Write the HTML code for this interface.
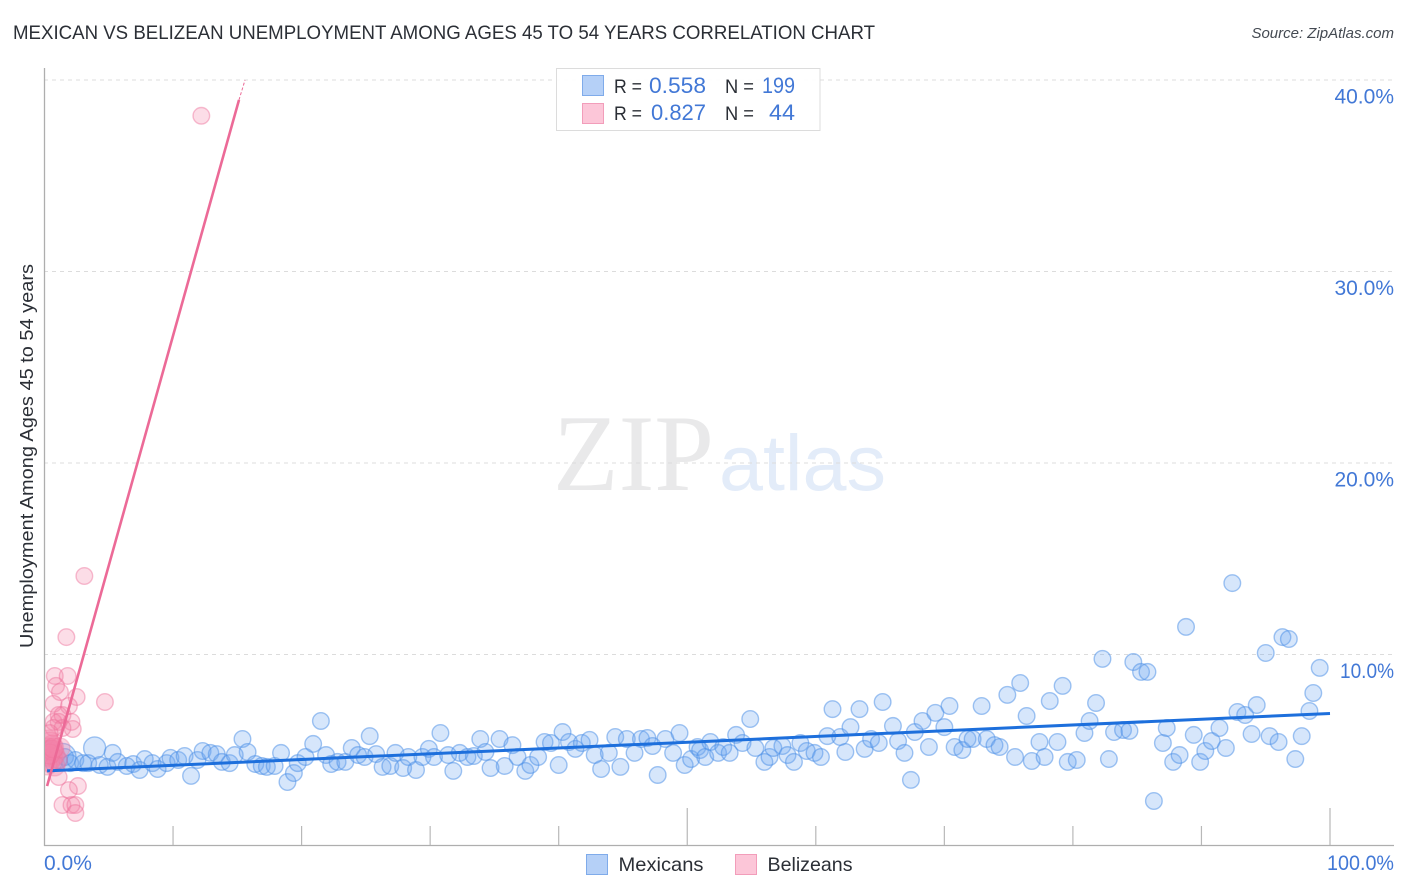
<!DOCTYPE html>
<html>
<head>
<meta charset="utf-8">
<title>Mexican vs Belizean Unemployment Correlation Chart</title>
<style>
html,body{margin:0;padding:0;background:#fff;width:1406px;height:892px;overflow:hidden}
svg{display:block;font-family:"Liberation Sans",sans-serif}
</style>
</head>
<body>
<svg id="chart" width="1406" height="892" viewBox="0 0 1406 892" xmlns="http://www.w3.org/2000/svg">
  <defs>
    <clipPath id="plot-clip"><rect x="45" y="60" width="1360" height="786"/></clipPath>
  </defs>
  <rect x="0" y="0" width="1406" height="892" fill="#ffffff"/>
  <text x="13" y="39" font-size="19" fill="#2b2f36" textLength="862" lengthAdjust="spacingAndGlyphs">MEXICAN VS BELIZEAN UNEMPLOYMENT AMONG AGES 45 TO 54 YEARS CORRELATION CHART</text>
  <text x="1394" y="38" font-size="15" font-style="italic" fill="#444a52" text-anchor="end">Source: ZipAtlas.com</text>
  <g>
    <text x="553" y="490" font-family="'Liberation Serif',serif" font-size="109" fill="#e9e9ea" textLength="161" lengthAdjust="spacingAndGlyphs">ZIP</text>
    <text x="719" y="490" font-size="79" fill="#e3ecf9" textLength="167" lengthAdjust="spacingAndGlyphs">atlas</text>
  </g>
  <g id="grid"></g>
  <g id="axes"></g>
  <g id="ticks"></g>
  <text transform="translate(33,648) rotate(-90)" font-size="18.5" fill="#2b2f36" textLength="384" lengthAdjust="spacingAndGlyphs">Unemployment Among Ages 45 to 54 years</text>
  <g id="mexican-points" clip-path="url(#plot-clip)"></g>
  <g id="belizean-points" clip-path="url(#plot-clip)"></g>
  <g id="trends"></g>

  <g>
    <rect x="556.5" y="68.5" width="263.5" height="62" fill="#ffffff" fill-opacity="0.9" stroke="#dcdcdc" stroke-width="1"/>
    <rect x="582.5" y="75.5" width="21" height="20" fill="#b5d0f7" stroke="#7fabea"/>
    <rect x="582.5" y="103.5" width="21" height="20" fill="#fcc6d8" stroke="#f29dba"/>
    <g font-size="19.5">
      <text x="614" y="93" fill="#2b2f36" textLength="28" lengthAdjust="spacingAndGlyphs">R =</text>
      <text x="649" y="93" fill="#4278d6" font-size="22" textLength="57" lengthAdjust="spacingAndGlyphs">0.558</text>
      <text x="725" y="93" fill="#2b2f36" textLength="29" lengthAdjust="spacingAndGlyphs">N =</text>
      <text x="762" y="93" fill="#4278d6" font-size="22" textLength="33" lengthAdjust="spacingAndGlyphs">199</text>
      <text x="614" y="120" fill="#2b2f36" textLength="28" lengthAdjust="spacingAndGlyphs">R =</text>
      <text x="651" y="120" fill="#4278d6" font-size="22" textLength="55" lengthAdjust="spacingAndGlyphs">0.827</text>
      <text x="725" y="120" fill="#2b2f36" textLength="29" lengthAdjust="spacingAndGlyphs">N =</text>
      <text x="769" y="120" fill="#4278d6" font-size="22" textLength="26" lengthAdjust="spacingAndGlyphs">44</text>
    </g>
  </g>

  <g>
    <g>
      <rect x="586.5" y="854.5" width="21" height="20" fill="#b5d0f7" stroke="#7fabea"/>
      <text x="618.5" y="871" font-size="19.5" fill="#2b2f36" textLength="85" lengthAdjust="spacingAndGlyphs">Mexicans</text>
    </g>
    <g>
      <rect x="735.5" y="854.5" width="21" height="20" fill="#fcc6d8" stroke="#f29dba"/>
      <text x="767.5" y="871" font-size="19.5" fill="#2b2f36" textLength="85" lengthAdjust="spacingAndGlyphs">Belizeans</text>
    </g>
  </g>
</svg>
<script>
const xTickValues = [0,10,20,30,40,50,60,70,80,90,100];
const xMajorTicks = [50,100];
const yGridValues = [10,20,30,40];
const yTickLabels = ["10.0%","20.0%","30.0%","40.0%"];
const xEndLabels = ["0.0%","100.0%"];

const mexicanX = [3.9,1.4,0.4,0.7,1.1,1.6,2.0,2.4,3.0,3.4,4.3,4.9,5.3,5.7,6.4,6.9,7.4,7.8,8.4,8.8,9.5,9.8,10.4,10.9,11.4,11.9,12.3,12.9,13.4,13.8,14.4,14.8,15.4,15.8,16.4,16.9,17.3,17.9,18.4,18.9,19.4,19.7,20.3,20.9,21.5,21.9,22.3,22.8,23.4,23.9,24.4,24.9,25.3,25.8,26.3,26.9,27.3,27.9,28.3,28.9,29.4,29.9,30.3,30.8,31.4,31.8,32.3,32.9,33.4,33.9,34.3,34.7,35.4,35.8,36.4,36.8,37.4,37.8,38.4,38.9,39.4,40.0,40.3,40.8,41.3,41.8,42.4,42.8,43.3,43.9,44.4,44.8,45.3,45.9,46.4,46.9,47.3,47.7,48.3,48.9,49.4,49.8,50.3,50.8,51.0,51.4,51.8,52.4,52.8,53.3,53.8,54.3,54.9,55.3,56.0,56.4,56.7,57.4,57.8,58.3,58.8,59.3,59.9,60.4,60.9,61.3,61.9,62.3,62.7,63.4,63.8,64.3,64.9,65.2,66.0,66.4,66.9,67.4,67.7,68.3,68.8,69.3,70.0,70.4,70.8,71.4,71.8,72.2,72.9,73.3,73.9,74.3,74.9,75.5,75.9,76.4,76.8,77.4,77.8,78.2,78.8,79.2,79.6,80.3,80.9,81.3,81.8,82.3,82.8,83.2,83.9,84.4,84.7,85.3,85.8,86.3,87.0,87.3,87.8,88.3,88.8,89.4,89.9,90.3,90.8,91.4,91.9,92.4,92.8,93.4,93.9,94.3,95.0,95.3,96.0,96.3,96.8,97.3,97.8,98.4,98.7,99.2];
const mexicanY = [5.12,4.65,5.01,4.33,4.49,4.65,4.33,4.49,4.33,4.33,4.23,4.13,4.86,4.39,4.18,4.28,3.97,4.54,4.33,4.02,4.33,4.60,4.49,4.70,3.66,4.49,4.96,4.86,4.80,4.39,4.33,4.75,5.59,4.91,4.28,4.18,4.13,4.18,4.86,3.34,3.81,4.33,4.65,5.33,6.53,4.75,4.28,4.39,4.39,5.12,4.75,4.65,5.74,4.80,4.13,4.18,4.86,4.07,4.65,3.97,4.65,5.07,4.65,5.90,4.75,3.92,4.86,4.65,4.70,5.59,4.91,4.07,5.59,4.18,5.27,4.65,3.92,4.23,4.65,5.43,5.38,4.23,5.95,5.43,5.07,5.38,5.54,4.75,4.02,4.86,5.69,4.13,5.59,4.86,5.59,5.64,5.22,3.71,5.59,4.86,5.90,4.23,4.54,5.17,5.01,4.65,5.43,4.86,5.17,4.86,5.80,5.38,6.63,5.12,4.39,4.65,5.12,5.22,4.75,4.39,5.38,4.96,4.86,4.65,5.74,7.15,5.69,4.91,6.21,7.15,5.07,5.59,5.38,7.52,6.27,5.48,4.86,3.45,5.95,6.53,5.17,6.95,6.21,7.31,5.17,5.01,5.59,5.59,7.31,5.59,5.27,5.17,7.89,4.65,8.51,6.79,4.44,5.43,4.65,7.57,5.43,8.36,4.39,4.49,5.90,6.53,7.47,9.77,4.54,5.95,6.06,6.01,9.61,9.09,9.09,2.35,5.38,6.16,4.39,4.75,11.44,5.80,4.39,4.96,5.48,6.16,5.12,13.73,7.00,6.84,5.85,7.36,10.08,5.74,5.43,10.91,10.81,4.54,5.74,7.05,7.99,9.30];
const mexicanBubbleRadius = [11,13.5];

const belizeanX = [12.2,3.1,1.7,0.8,1.8,0.9,1.2,2.5,4.7,0.7,1.9,1.1,1.4,0.7,2.1,1.1,2.2,1.4,0.7,0.4,0.4,0.6,0.3,0.4,0.7,0.8,0.3,0.6,1.0,0.4,1.2,0.2,0.8,0.3,0.6,0.4,0.7,1.1,2.6,1.9,1.4,2.1,2.4,2.4];
const belizeanY = [38.13,14.1,10.91,8.88,8.88,8.36,8.04,7.78,7.52,7.42,7.31,6.84,6.84,6.48,6.48,6.48,6.11,6.16,6.16,5.90,5.43,5.27,5.12,5.01,4.91,4.75,4.70,4.60,4.49,4.39,5.12,4.23,4.18,5.53,5.01,4.80,5.12,3.60,3.13,2.92,2.14,2.14,2.14,1.72];

const mexicanTrendX = [0.2,100];
const mexicanTrendY = [3.92,6.92];
const belizeanTrendX = [0.2,15.13];
const belizeanTrendY = [3.13,38.96];
const belizeanTrendExtX = [15.13,15.6];
const belizeanTrendExtY = [38.96,40];

const NS = "http://www.w3.org/2000/svg";
const X0 = 44.5, X100 = 1330, Y0 = 846, Y40 = 80;
function xScale(v){ return X0 + (X100 - X0) * v / 100; }
function yScale(v){ return Y0 - (Y0 - Y40) * v / 40; }
function mk(tag, attrs, parent){
  const el = document.createElementNS(NS, tag);
  for (const k in attrs) el.setAttribute(k, attrs[k]);
  parent.appendChild(el);
  return el;
}

const gridG = document.getElementById('grid');
yGridValues.forEach(function(v){
  const l = mk('line', {x1:44, x2:1394, y1:yScale(v), y2:yScale(v), stroke:'#dcdcdc', 'stroke-width':1, 'stroke-dasharray':'4 4'}, gridG);
  
  
});

const axesG = document.getElementById('axes');
const yAxis = mk('line', {x1:44.5, x2:44.5, y1:68, y2:846, stroke:'#aeaeae', 'stroke-width':1.3}, axesG);


const xAxis = mk('line', {x1:44, x2:1394, y1:845.5, y2:845.5, stroke:'#aeaeae', 'stroke-width':1.3}, axesG);


xTickValues.slice(1).forEach(function(v){
  const top = xMajorTicks.indexOf(v) >= 0 ? 808 : 826;
  const t = mk('line', {x1:xScale(v), x2:xScale(v), y1:top, y2:845, stroke:'#b8b8b8', 'stroke-width':1.2}, axesG);
  
  
});

const ticksG = document.getElementById('ticks');
yGridValues.forEach(function(v, i){
  const t = mk('text', {x:1394, y:yScale(v) + 23.5, 'text-anchor':'end', 'font-size':21, fill:'#4278d6'}, ticksG);
  if (i === 0) { t.setAttribute('textLength', 54); t.setAttribute('lengthAdjust', 'spacingAndGlyphs'); }
  t.textContent = yTickLabels[i];
  
  
});
const xLabelLeft = mk('text', {x:44, y:870, 'font-size':21, fill:'#4278d6'}, ticksG);
xLabelLeft.textContent = xEndLabels[0];


const xLabelRight = mk('text', {x:1327, y:870, 'font-size':21, fill:'#4278d6', textLength:67, lengthAdjust:'spacingAndGlyphs'}, ticksG);
xLabelRight.textContent = xEndLabels[1];



const mexG = document.getElementById('mexican-points');
mexicanX.forEach(function(v, i){
  const r = i < mexicanBubbleRadius.length ? mexicanBubbleRadius[i] : 8.3;
  const c = mk('circle', {cx:xScale(v), cy:yScale(mexicanY[i]), r:r, fill:'#6ba5f0', 'fill-opacity':0.28, stroke:'#4d90e6', 'stroke-opacity':0.52, 'stroke-width':1.4}, mexG);
  
  
});

const belG = document.getElementById('belizean-points');
belizeanX.forEach(function(v, i){
  const inCluster = i >= 20 && i <= 36;
  const c = mk('circle', {cx:xScale(v), cy:yScale(belizeanY[i]), r:inCluster ? 10 : 8.3, fill:'#f583a8', 'fill-opacity':inCluster ? 0.36 : 0.27, stroke:'#ee6f98', 'stroke-opacity':inCluster ? 0.3 : 0.45, 'stroke-width':1.4}, belG);
  
  
});

const trendG = document.getElementById('trends');
const mexTrend = mk('line', {x1:xScale(mexicanTrendX[0]), y1:yScale(mexicanTrendY[0]), x2:xScale(mexicanTrendX[1]), y2:yScale(mexicanTrendY[1]), stroke:'#1d6fdc', 'stroke-width':3}, trendG);


const belTrend = mk('line', {x1:xScale(belizeanTrendX[0]), y1:yScale(belizeanTrendY[0]), x2:xScale(belizeanTrendX[1]), y2:yScale(belizeanTrendY[1]), stroke:'#ec6a97', 'stroke-width':2.6}, trendG);


const belExt = mk('line', {x1:xScale(belizeanTrendExtX[0]), y1:yScale(belizeanTrendExtY[0]), x2:xScale(belizeanTrendExtX[1]), y2:yScale(belizeanTrendExtY[1]), stroke:'#ec6a97', 'stroke-width':1, 'stroke-dasharray':'3 2'}, trendG);


</script>
</body>
</html>
